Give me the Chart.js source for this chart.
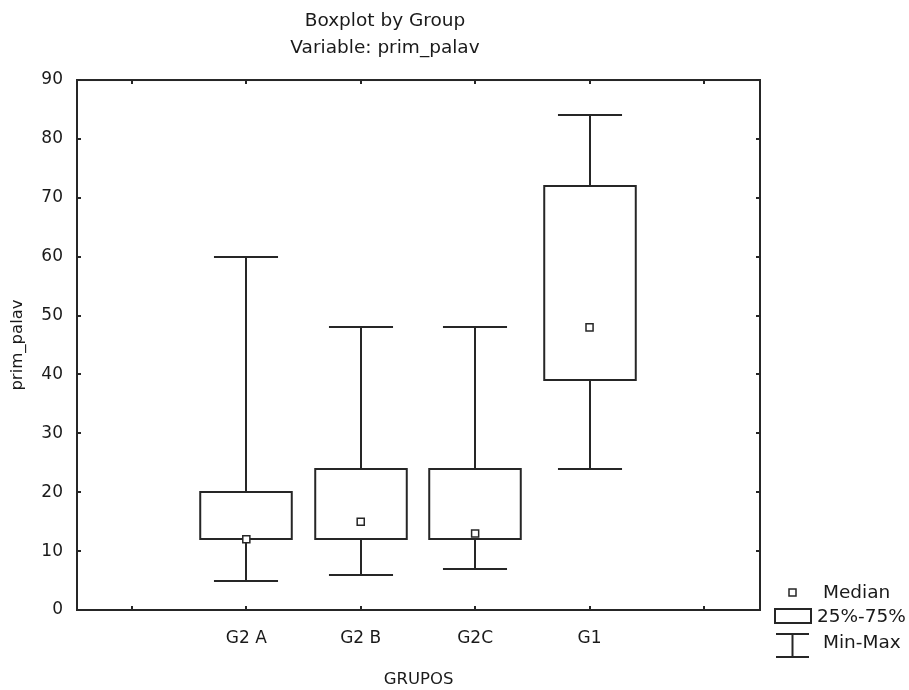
<!DOCTYPE html>
<html lang="en">
<head>
    <meta charset="UTF-8">
    <title>Boxplot by Group</title>
    <script src="https://cdn.jsdelivr.net/npm/chart.js"></script>
    <style>
        body {
            margin: 0;
            background: #ffffff;
        }
        canvas {
            display: block;
        }
    </style>
</head>
<body>
    <canvas id="boxChart" width="909" height="690"></canvas>

    <script>
        // values
        const groups = ['G2 A', 'G2 B', 'G2C', 'G1'];
        const minVals = [5, 6, 7, 24];
        const q1Vals = [12, 12, 12, 39];
        const medianVals = [12, 15, 13, 48];
        const q3Vals = [20, 24, 24, 72];
        const maxVals = [60, 48, 48, 84];
        const xTickLabels = ['', 'G2 A', 'G2 B', 'G2C', 'G1', ''];
        const yTicks = [0, 10, 20, 30, 40, 50, 60, 70, 80, 90];
        const legendLabels = ['Median', '25%-75%', 'Min-Max'];

        const lineColor = '#262626';
        const textColor = '#1a1a1a';
        Chart.defaults.font.family = "'DejaVu Sans', sans-serif";
        Chart.defaults.color = textColor;

        // boxes, whiskers, frame with inward ticks, and the legend
        const boxPlugin = {
            id: 'boxes',
            beforeDatasetsDraw(chart) {
                const { ctx, scales: { x, y } } = chart;
                const unit = x.getPixelForValue(2) - x.getPixelForValue(1);
                const boxHalf = unit * 0.4;
                const capHalf = unit * 0.28;
                ctx.save();
                ctx.strokeStyle = lineColor;
                ctx.lineWidth = 2;
                groups.forEach((g, i) => {
                    const cx = Math.round(x.getPixelForValue(i + 2));
                    const yMin = Math.round(y.getPixelForValue(minVals[i]));
                    const yQ1 = Math.round(y.getPixelForValue(q1Vals[i]));
                    const yQ3 = Math.round(y.getPixelForValue(q3Vals[i]));
                    const yMax = Math.round(y.getPixelForValue(maxVals[i]));
                    ctx.beginPath();
                    ctx.moveTo(cx, yMax); ctx.lineTo(cx, yQ3);
                    ctx.moveTo(cx, yQ1); ctx.lineTo(cx, yMin);
                    ctx.moveTo(cx - capHalf, yMax); ctx.lineTo(cx + capHalf, yMax);
                    ctx.moveTo(cx - capHalf, yMin); ctx.lineTo(cx + capHalf, yMin);
                    ctx.stroke();
                    ctx.fillStyle = '#ffffff';
                    ctx.fillRect(cx - boxHalf, yQ3, boxHalf * 2, yQ1 - yQ3);
                    ctx.strokeRect(cx - boxHalf, yQ3, boxHalf * 2, yQ1 - yQ3);
                });
                ctx.restore();
            },
            afterDatasetsDraw(chart) {
                const { ctx, chartArea: a, scales: { x, y } } = chart;
                ctx.save();
                ctx.strokeStyle = lineColor;
                ctx.lineWidth = 2;
                ctx.strokeRect(a.left, a.top, a.right - a.left, a.bottom - a.top);
                ctx.beginPath();
                y.ticks.forEach(t => {
                    const py = Math.round(y.getPixelForValue(t.value));
                    ctx.moveTo(a.left, py); ctx.lineTo(a.left + 4, py);
                    ctx.moveTo(a.right, py); ctx.lineTo(a.right - 4, py);
                });
                x.ticks.forEach(t => {
                    const px = Math.round(x.getPixelForValue(t.value));
                    ctx.moveTo(px, a.bottom); ctx.lineTo(px, a.bottom - 4);
                    ctx.moveTo(px, a.top); ctx.lineTo(px, a.top + 4);
                });
                ctx.stroke();
                ctx.restore();
            },
            afterDraw(chart) {
                const { ctx } = chart;
                ctx.save();
                ctx.strokeStyle = lineColor;
                ctx.lineWidth = 2;
                // median symbol
                ctx.fillStyle = '#ffffff';
                ctx.fillRect(789, 589, 7, 7);
                ctx.lineWidth = 1.5;
                ctx.strokeRect(789, 589, 7, 7);
                // box symbol
                ctx.lineWidth = 2;
                ctx.strokeRect(775, 609, 36, 14);
                // whisker symbol
                ctx.beginPath();
                ctx.moveTo(776, 634); ctx.lineTo(809, 634);
                ctx.moveTo(792.5, 634); ctx.lineTo(792.5, 657);
                ctx.moveTo(776, 657); ctx.lineTo(809, 657);
                ctx.stroke();

                ctx.fillStyle = textColor;
                ctx.font = "18.5px 'DejaVu Sans'";
                ctx.textBaseline = 'middle';
                ctx.fillText(legendLabels[0], 823, 593);
                ctx.fillText(legendLabels[1], 817, 617);
                ctx.fillText(legendLabels[2], 823, 643);
                ctx.restore();
            }
        };

        const ctx = document.getElementById('boxChart').getContext('2d');

        const chart = new Chart(ctx, {
            type: 'scatter',
            data: {
                datasets: [{
                    label: 'Median',
                    data: medianVals.map((m, i) => ({ x: i + 2, y: m })),
                    pointStyle: 'rect',
                    pointRadius: 5,
                    pointHoverRadius: 5,
                    borderWidth: 1.5,
                    borderColor: lineColor,
                    backgroundColor: '#ffffff'
                }]
            },
            options: {
                responsive: false,
                animation: false,
                devicePixelRatio: 1,
                layout: {
                    padding: { left: 0, right: 139, top: 0, bottom: 0 }
                },
                plugins: {
                    legend: { display: false },
                    tooltip: { enabled: false },
                    title: {
                        display: true,
                        text: ['Boxplot by Group', 'Variable: prim_palav'],
                        color: textColor,
                        font: { size: 18.5, weight: 'normal', lineHeight: 1.46 },
                        padding: { top: 7.5, bottom: 18.5 }
                    }
                },
                scales: {
                    x: {
                        type: 'linear',
                        min: 0.52,
                        max: 6.49,
                        grid: { display: false, drawTicks: false, tickLength: 0 },
                        border: { display: false },
                        afterBuildTicks: s => { s.ticks = xTickLabels.map((l, i) => ({ value: i + 1 })); },
                        afterFit: s => { s.height = 80; },
                        ticks: {
                            autoSkip: false,
                            maxRotation: 0,
                            padding: 18,
                            color: textColor,
                            font: { size: 17 },
                            callback: v => xTickLabels[Math.round(v) - 1]
                        },
                        title: {
                            display: true,
                            text: 'GRUPOS',
                            color: textColor,
                            font: { size: 16.5 },
                            padding: { top: 0, bottom: 0 }
                        }
                    },
                    y: {
                        min: 0,
                        max: 90,
                        grid: { display: false, drawTicks: false, tickLength: 0 },
                        border: { display: false },
                        afterBuildTicks: s => { s.ticks = yTicks.map(v => ({ value: v })); },
                        afterFit: s => { s.width = 77; },
                        ticks: {
                            padding: 14,
                            color: textColor,
                            font: { size: 17 }
                        },
                        title: {
                            display: true,
                            text: 'prim_palav',
                            color: textColor,
                            font: { size: 16.5 },
                            padding: { top: 8, bottom: 8 }
                        }
                    },
                    yRight: {
                        position: 'right',
                        min: 0,
                        max: 90,
                        grid: { display: false, drawTicks: false, tickLength: 0 },
                        border: { display: false },
                        ticks: { display: false },
                        afterFit: s => { s.width = 10; }
                    }
                }
            },
            plugins: [boxPlugin]
        });
    </script>
</body>
</html>
